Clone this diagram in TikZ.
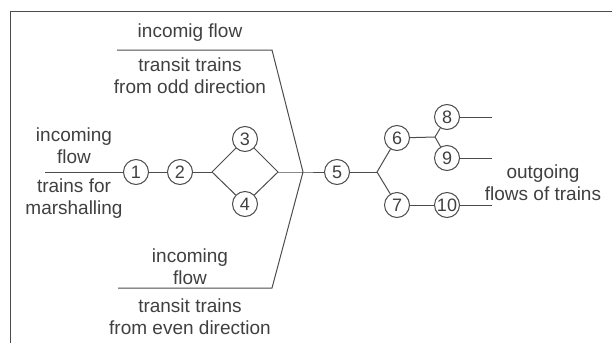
\documentclass[tikz,border=0pt]{standalone}
\usepackage{fontspec}
\setmainfont{Liberation Sans}
\begin{document}
\begin{tikzpicture}[x=1pt,y=-1pt,
  ln/.style={draw=black!70,line width=1pt},
  num/.style={circle,draw=black!70,line width=1pt,minimum size=25pt,inner sep=0pt,text=black!75,font=\fontsize{18}{20}\selectfont},
  lbl/.style={text=black!75,align=center,inner sep=0pt,font=\fontsize{19}{22}\selectfont}]
\useasboundingbox (0,0) rectangle (612,343);
% frame
\draw[ln] (10,343) -- (10,11) -- (612,11);
% texts
\node[lbl] (t1) at (190,33) {incomig flow};
\node[lbl] (t2) at (190,76) {transit trains\\from odd direction};
\node[lbl] (t3) at (74,146) {incoming\\flow};
\node[lbl] (t4) at (74,199) {trains for\\marshalling};
\node[lbl] (t5) at (190,267) {incoming\\flow};
\node[lbl] (t6) at (190,317) {transit trains\\from even direction};
\node[lbl] (t7) at (543,183) {outgoing\\flows of trains};
% circles
\node[num] (n1) at (136,172) {1};
\node[num] (n2) at (180,172) {2};
\node[num] (n3) at (245,139) {3};
\node[num] (n4) at (245,204) {4};
\node[num] (n5) at (337,172) {5};
\node[num] (n6) at (397,138) {6};
\node[num] (n7) at (397,205) {7};
\node[num] (n8) at (447,117) {8};
\node[num] (n9) at (447,158) {9};
\node[num] (n10) at (447,205) {10};
% coordinates
\coordinate (a0) at (45,172);
\coordinate (dl) at (212,172);
\coordinate (dr) at (278,172);
\coordinate (j) at (303,172);
\coordinate (tl) at (117,50);
\coordinate (tr) at (272,50);
\coordinate (bl) at (118,288);
\coordinate (br) at (272,288);
\coordinate (j2) at (377,172);
\coordinate (j3) at (435,137);
\coordinate (e8) at (492,117);
\coordinate (e9) at (492,158);
\coordinate (e10) at (492,205);
% connectors
\draw[ln] (a0) -- (n1);
\draw[ln] (n1) -- (n2);
\draw[ln] (n2) -- (dl);
\draw[ln] (dl) -- (n3);
\draw[ln] (dl) -- (n4);
\draw[ln] (n3) -- (dr);
\draw[ln] (n4) -- (dr);
\draw[ln] (dr) -- (j) -- (n5);
\draw[ln] (tl) -- (tr) -- (j);
\draw[ln] (bl) -- (br) -- (j);
\draw[ln] (n5) -- (j2);
\draw[ln] (j2) -- (n6);
\draw[ln] (j2) -- (n7);
\draw[ln] (n6) -- (j3);
\draw[ln] (j3) -- (n8);
\draw[ln] (j3) -- (n9);
\draw[ln] (n8) -- (e8);
\draw[ln] (n9) -- (e9);
\draw[ln] (n7) -- (n10);
\draw[ln] (n10) -- (e10);
\end{tikzpicture}
\end{document}
